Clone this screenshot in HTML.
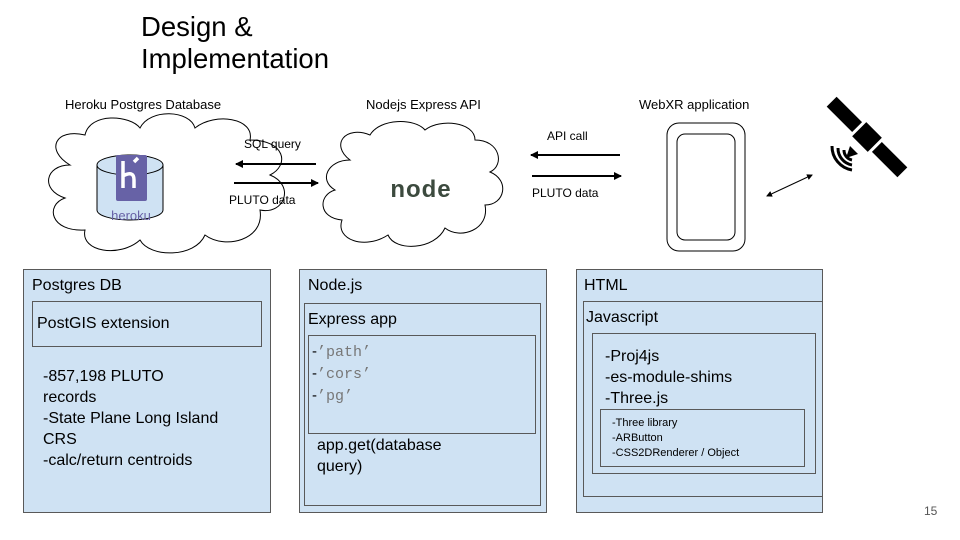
<!DOCTYPE html>
<html><head><meta charset="utf-8"><style>
body{margin:0;width:960px;height:540px;background:#fff;overflow:hidden;position:relative;font-family:"Liberation Sans",Arial,sans-serif;}
.t{position:absolute;color:#000;white-space:nowrap;}
.b{position:absolute;background:#cfe2f3;border:1.3px solid #595959;box-sizing:border-box;}
.mono{font-family:"Liberation Mono",monospace;color:#777;}
</style></head><body>
<div class="t" style="left:141px;top:11px;font-size:27.5px;line-height:32px;">Design &amp;<br>Implementation</div>

<svg width="960" height="540" style="position:absolute;left:0;top:0">
<defs><marker id="a" markerWidth="8" markerHeight="8" refX="7" refY="4" orient="auto" markerUnits="userSpaceOnUse"><path d="M0,0L8,4L0,8z" fill="#000"/></marker>
<marker id="s" markerWidth="6" markerHeight="6" refX="5" refY="3" orient="auto-start-reverse" markerUnits="userSpaceOnUse"><path d="M0,0L6,3L0,6z" fill="#000"/></marker></defs>
<!-- cloud 1 -->
<path d="M70,165 C45,150 55,128 85,135 C90,112 130,115 140,128 C150,108 190,110 195,128 C215,112 255,118 250,140 C285,140 290,165 270,175 C295,185 285,215 260,210 C265,240 225,250 205,235 C195,258 150,258 140,240 C120,258 80,252 85,230 C50,232 45,205 65,198 C40,190 45,165 70,165Z" fill="#fff" stroke="#000" stroke-width="1"/>
<!-- cylinder -->
<path d="M97,165 L97,210 A33,10 0 0 0 163,210 L163,165" fill="#cfe2f3" stroke="#000"/>
<ellipse cx="130" cy="165" rx="33" ry="10" fill="#cfe2f3" stroke="#000"/>
<rect x="116" y="155" width="31" height="46" rx="2" fill="#6762a6"/>
<path d="M123,161 v27 M123,176 q11,-6 11,4 v8 M134,162 l4,-4" stroke="#fff" stroke-width="3.5" fill="none"/>
<text x="131" y="220" font-size="13" fill="#6762a6" text-anchor="middle" font-family="Liberation Sans">heroku</text>
<!-- cloud 2 -->
<path d="M350,160 C330,145 345,125 370,135 C380,118 415,118 425,130 C440,118 475,122 475,140 C500,140 505,165 490,172 C510,180 505,205 485,205 C490,230 460,240 445,228 C435,250 395,252 388,235 C365,250 335,240 342,220 C318,218 318,195 335,190 C318,180 328,160 350,160Z" fill="#fff" stroke="#000" stroke-width="1"/>
<text x="421" y="197" font-size="24" font-weight="bold" fill="#3c4a3e" text-anchor="middle" font-family="Liberation Sans" letter-spacing="1">node</text>
<!-- arrows -->
<line x1="316" y1="164" x2="236" y2="164" stroke="#000" stroke-width="2" marker-end="url(#a)"/>
<line x1="234" y1="183" x2="318" y2="183" stroke="#000" stroke-width="2" marker-end="url(#a)"/>
<line x1="620" y1="155" x2="531" y2="155" stroke="#000" stroke-width="2" marker-end="url(#a)"/>
<line x1="532" y1="176" x2="621" y2="176" stroke="#000" stroke-width="2" marker-end="url(#a)"/>
<line x1="767" y1="196" x2="812" y2="175" stroke="#000" stroke-width="1" marker-start="url(#s)" marker-end="url(#s)"/>
<!-- phone -->
<rect x="667" y="123" width="78" height="128" rx="12" fill="#fff" stroke="#000"/>
<rect x="677" y="134" width="58" height="106" rx="8" fill="#fff" stroke="#000"/>
<!-- satellite -->
<g transform="translate(867,137) rotate(-45)">
<rect x="-7" y="-50" width="14" height="36" fill="#000"/>
<rect x="-7" y="14" width="14" height="36" fill="#000"/>
<rect x="-10" y="-11" width="20" height="22" fill="#000"/>
</g>
<path d="M850,146 l-4,12 l12,-4z" fill="#000"/>
<path d="M844,150 a10,10 0 0 0 8,10 M838,148 a17,17 0 0 0 14,17 M832,146 a24,24 0 0 0 20,24" stroke="#000" stroke-width="3" fill="none"/>
</svg>

<div class="t" style="left:65px;top:97px;font-size:13px;">Heroku Postgres Database</div>
<div class="t" style="left:366px;top:97px;font-size:13px;">Nodejs Express API</div>
<div class="t" style="left:639px;top:97px;font-size:13px;">WebXR application</div>
<div class="t" style="left:244px;top:137px;font-size:12px;">SQL query</div>
<div class="t" style="left:229px;top:193px;font-size:12px;">PLUTO data</div>
<div class="t" style="left:547px;top:129px;font-size:12px;">API call</div>
<div class="t" style="left:532px;top:186px;font-size:12px;">PLUTO data</div>

<div class="b" style="left:23px;top:269px;width:248px;height:244px;"></div>
<div class="t" style="left:32px;top:277px;font-size:16px;">Postgres DB</div>
<div class="b" style="left:32px;top:301px;width:230px;height:46px;"></div>
<div class="t" style="left:37px;top:315px;font-size:16px;">PostGIS extension</div>
<div class="t" style="left:43px;top:366px;font-size:16px;line-height:21px;">-857,198 PLUTO<br>records<br>-State Plane Long Island<br>CRS<br>-calc/return centroids</div>

<div class="b" style="left:299px;top:269px;width:248px;height:244px;"></div>
<div class="t" style="left:308px;top:277px;font-size:16px;">Node.js</div>
<div class="b" style="left:304px;top:303px;width:237px;height:203px;"></div>
<div class="t" style="left:308px;top:311px;font-size:16px;">Express app</div>
<div class="b" style="left:308px;top:335px;width:228px;height:99px;"></div>
<div class="t" style="left:312px;top:341px;font-size:15px;line-height:21px;"><span>-</span><span class="mono">’path’</span><br>-<span class="mono">’cors’</span><br>-<span class="mono">’pg’</span></div>
<div class="t" style="left:317px;top:435px;font-size:16px;line-height:21px;">app.get(database<br>query)</div>

<div class="b" style="left:576px;top:269px;width:247px;height:244px;"></div>
<div class="t" style="left:584px;top:277px;font-size:16px;">HTML</div>
<div class="b" style="left:583px;top:301px;width:240px;height:196px;"></div>
<div class="t" style="left:586px;top:309px;font-size:16px;">Javascript</div>
<div class="b" style="left:592px;top:333px;width:224px;height:141px;"></div>
<div class="t" style="left:605px;top:346px;font-size:16px;line-height:21px;">-Proj4js<br>-es-module-shims<br>-Three.js</div>
<div class="b" style="left:600px;top:409px;width:205px;height:58px;"></div>
<div class="t" style="left:612px;top:416px;font-size:11px;line-height:15px;">-Three library<br>-ARButton<br>-CSS2DRenderer / Object</div>

<div class="t" style="left:924px;top:504px;font-size:12px;color:#555;">15</div>
</body></html>
